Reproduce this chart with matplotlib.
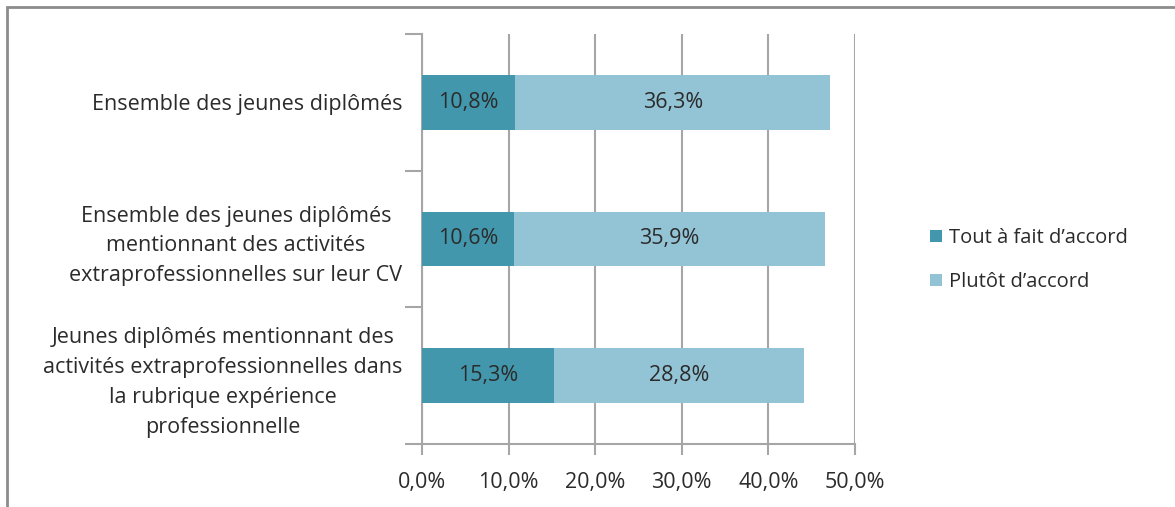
import matplotlib.pyplot as plt
from matplotlib.patches import Rectangle

# données
categories = [
    "Ensemble des jeunes diplômés",
    "Ensemble des jeunes diplômés\nmentionnant des activités\nextraprofessionnelles sur leur CV",
    "Jeunes diplômés mentionnant des\nactivités extraprofessionnelles dans\nla rubrique expérience\nprofessionnelle",
]
tout_a_fait = [10.8, 10.6, 15.3]
plutot = [36.3, 35.9, 28.8]
series_names = ["Tout à fait d\u2019accord", "Plutôt d\u2019accord"]
x_ticks = [0, 10, 20, 30, 40, 50]

plt.rcParams['font.family'] = ['Open Sans', 'DejaVu Sans']
fs = 15.5
text_color = '#2B2B2B'

fig = plt.figure(figsize=(11.75, 5.07), dpi=100)
ax = fig.add_axes([0.3591, 0.1243, 0.7277 - 0.3591, 0.9329 - 0.1243])

dark = '#4397AD'
light = '#93C4D5'
ypos = list(range(len(categories)))
b1 = ax.barh(ypos, tout_a_fait, height=0.4, color=dark, label=series_names[0], zorder=3)
b2 = ax.barh(ypos, plutot, left=tout_a_fait, height=0.4, color=light, label=series_names[1], zorder=3)

for bars, vals in ((b1, tout_a_fait), (b2, plutot)):
    ax.bar_label(bars, labels=[f"{v:.1f}%".replace('.', ',') for v in vals],
                 label_type='center', color=text_color, fontsize=fs)

ax.set_xlim(0, 50)
ax.set_ylim(2.5, -0.5)
ax.set_xticks(x_ticks)
ax.set_xticklabels([f"{v:.1f}%".replace('.', ',') for v in x_ticks], color=text_color, fontsize=fs)
ax.set_yticks(ypos)
ax.set_yticklabels(categories, color=text_color, multialignment='center',
                   fontsize=fs, linespacing=1.55)
ax.tick_params(axis='y', length=0, pad=14)
ax.set_yticks([-0.5, 0.5, 1.5, 2.5], minor=True)
ax.tick_params(axis='y', which='minor', length=12, width=1.5, color='#A6A6A6')
ax.tick_params(axis='x', length=8, width=1.5, color='#A6A6A6', pad=12)

ax.grid(axis='x', color='#A6A6A6', linewidth=1.5, zorder=0)
for s in ('top', 'right'):
    ax.spines[s].set_visible(False)
for s in ('left', 'bottom'):
    ax.spines[s].set_color('#A6A6A6')
    ax.spines[s].set_linewidth(1.5)

fig.legend(handles=[b1, b2], loc='center left', bbox_to_anchor=(0.776, 0.487),
           frameon=False, handlelength=0.6, handleheight=0.6, handletextpad=0.35,
           labelspacing=1.2, fontsize=14.5, labelcolor=text_color)

# cadre du graphique
fig.patches.append(Rectangle((7 / 1175, -0.1), 1.2, 1 - 6.5 / 507 + 0.1,
                             transform=fig.transFigure, fill=False,
                             edgecolor='#8C8C8C', linewidth=2))

fig.savefig('out.png', dpi=100)
